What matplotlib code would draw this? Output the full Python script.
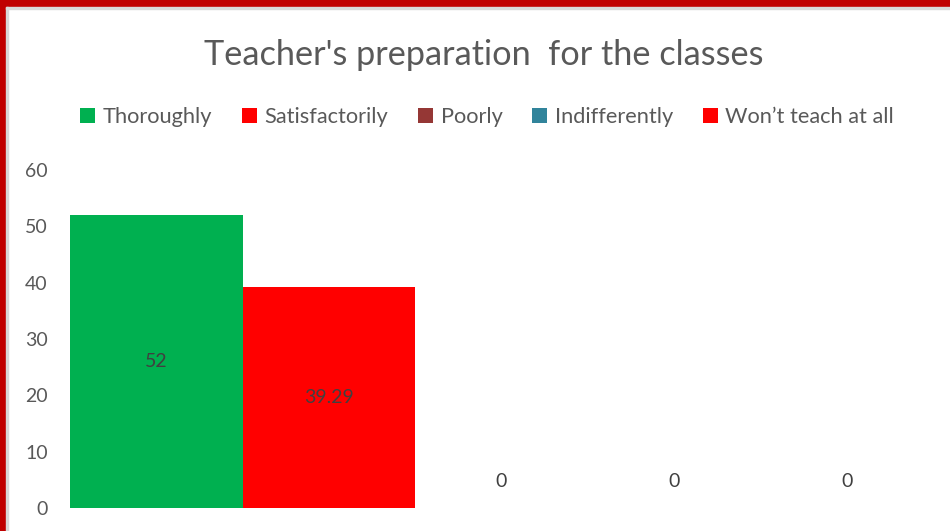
import matplotlib
matplotlib.use("Agg")
import matplotlib.pyplot as plt
from matplotlib.patches import Rectangle

plt.rcParams['font.family'] = ['Lato', 'DejaVu Sans']

title = "Teacher's preparation  for the classes"
series_names = ["Thoroughly", "Satisfactorily", "Poorly", "Indifferently", "Won\u2019t teach at all"]
values = [52, 39.29, 0, 0, 0]
label_texts = ["52", "39.29", "0", "0", "0"]
colors = ["#00B050", "#FF0000", "#953735", "#31849B", "#FF0000"]
yticks = [0, 10, 20, 30, 40, 50, 60]

W, H = 950, 531
fig = plt.figure(figsize=(W / 100, H / 100), dpi=100)
fig.patch.set_facecolor("white")

ax = fig.add_axes([70 / W, (H - 508) / H, (933 - 70) / W, (508 - 170) / H])
handles = []
for i, (name, v, c) in enumerate(zip(series_names, values, colors)):
    b = ax.bar(i, v, width=1.0, color=c, label=name, align="center")
    handles.append(b)
    if v == 0:
        ax.annotate(label_texts[i], (i, v), xytext=(0, 19), textcoords="offset points",
                    ha="center", va="center", fontsize=14, color="#404040")
    else:
        ax.text(i, v / 2, label_texts[i], ha="center", va="center", fontsize=14, color="#404040")

ax.set_xlim(-0.5, len(values) - 0.5)
ax.set_ylim(0, 60)
ax.set_yticks(yticks)
ax.set_xticks([])
ax.tick_params(axis="y", length=0, pad=16, labelsize=14, labelcolor="#595959")
for s in ax.spines.values():
    s.set_visible(False)

fig.text(484 / W, 1 - 55 / H, title, ha="center", va="center", fontsize=24.7, color="#595959")

leg = fig.legend(handles=handles, labels=series_names, loc="center", ncol=5,
                 bbox_to_anchor=(487 / W, 1 - 117 / H), frameon=False,
                 fontsize=15.7, handlelength=0.7, handleheight=0.7, handletextpad=0.35,
                 columnspacing=1.35, labelcolor="#595959")

# frame border
fig.patches.append(Rectangle((0, 0), 6 / W, 1, transform=fig.transFigure, color="#C00000", zorder=10))
fig.patches.append(Rectangle((0, 1 - 7 / H), 1, 7 / H, transform=fig.transFigure, color="#C00000", zorder=10))
fig.patches.append(Rectangle((6 / W, 0), 1.5 / W, 1 - 7 / H, transform=fig.transFigure, color="#D9D9D9", zorder=10))
fig.patches.append(Rectangle((6 / W, 1 - 8.5 / H), 1, 1.5 / H, transform=fig.transFigure, color="#D9D9D9", zorder=10))

fig.savefig("out.png", dpi=100)
